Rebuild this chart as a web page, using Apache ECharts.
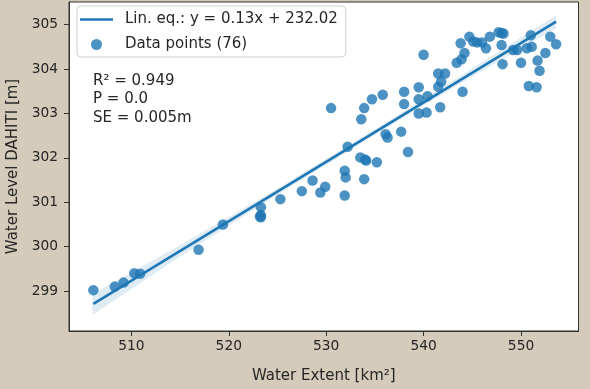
<!DOCTYPE html>
<html><head><meta charset="utf-8">
<script src="https://cdn.jsdelivr.net/npm/echarts@6/dist/echarts.min.js"></script>
<style>html,body{margin:0;padding:0;background:#d4cbbb;}#c{width:590px;height:389px;}</style>
</head><body><div id="c"></div>
<script>
// Data points (Water Extent km², Water Level m)
const extent = [506.1,508.3,509.2,510.3,510.9,516.9,519.4,523.3,523.3,523.3,523.2,525.3,527.5,528.6,529.4,529.9,
531.9,532.0,531.9,533.5,534.1,534.0,533.9,535.2,538.4,530.5,532.2,533.6,533.9,534.7,535.8,536.1,536.3,537.7,
538.0,538.0,539.5,539.5,539.5,540.3,540.4,540.0,541.7,541.5,541.8,541.5,542.2,544.0,543.4,543.9,544.2,543.8,
544.7,545.1,545.5,546.0,546.4,546.8,547.7,548.0,548.2,548.0,548.1,549.2,549.6,550.0,550.6,551.1,551.0,550.8,
551.6,551.7,551.9,552.5,553.0,553.6];
const level = [299.02,299.10,299.19,299.40,299.39,299.93,300.50,300.89,300.71,300.66,300.68,301.07,301.25,301.49,301.22,301.35,
301.71,301.56,301.15,302.01,301.94,301.96,301.52,301.90,302.13,303.12,302.25,302.87,303.12,303.32,303.42,302.53,302.46,302.59,
303.49,303.21,303.59,303.32,303.00,303.02,303.39,304.32,303.14,303.60,303.72,303.90,303.90,303.49,304.14,304.22,304.36,304.58,
304.73,304.62,304.60,304.60,304.47,304.73,304.83,304.81,304.80,304.54,304.11,304.43,304.43,304.14,304.47,304.50,304.76,303.62,
303.59,304.19,303.96,304.36,304.73,304.56];
// Regression line (endpoints)
const fitX = [506.1, 553.6];
const fitY = [298.71, 305.07];
// Confidence band
const bandX = [506.0, 515.0, 525.0, 535.0, 545.0, 553.6];
const bandLow = [298.46, 299.77, 301.17, 302.52, 303.83, 304.92];
const bandHigh = [298.93, 300.03, 301.31, 302.64, 304.01, 305.22];
// Ticks
const xTicks = [510, 520, 530, 540, 550];
const yTicks = [299, 300, 301, 302, 303, 304, 305];
const lineName = 'Lin. eq.: y = 0.13x + 232.02';
const pointName = 'Data points (76)';
const stats = ['R\u00b2 = 0.949', 'P = 0.0', 'SE = 0.005m'];

const FONT = 'DejaVu Sans';
const blue = '#1f77b4';
const chart = echarts.init(document.getElementById('c'), null, {renderer: 'canvas'});
const bandPoly = bandX.map((x,i)=>[x, bandHigh[i]]).concat(bandX.slice().reverse().map((x,i)=>[x, bandLow[bandX.length-1-i]]));
chart.setOption({
  backgroundColor: '#d4cbbb',
  animation: false,
  textStyle: {fontFamily: FONT},
  grid: {left: 69, right: 11.5, top: 2, bottom: 58, show: true, backgroundColor: '#fff', borderColor: '#333', borderWidth: 1,
         containLabel: false, outerBoundsMode: 'none'},
  xAxis: {
    type: 'value', min: 503.6, max: 555.9,
    name: 'Water Extent [km\u00b2]', nameLocation: 'middle', nameGap: 37.5,
    nameTextStyle: {fontFamily: FONT, fontSize: 15, color: '#262626'},
    axisLine: {show: true, onZero: false, lineStyle: {color: '#333'}},
    axisTick: {show: true, length: 5, lineStyle: {color: '#333'}, customValues: xTicks},
    axisLabel: {fontFamily: FONT, fontSize: 13.8, color: '#262626', margin: 8, customValues: xTicks},
    splitLine: {show: false}
  },
  yAxis: {
    type: 'value', min: 298.1, max: 305.51,
    name: 'Water Level DAHITI [m]', nameLocation: 'middle', nameGap: 41, nameRotate: 90,
    nameTextStyle: {fontFamily: FONT, fontSize: 15, color: '#262626'},
    axisLine: {show: true, onZero: false, lineStyle: {color: '#333'}},
    axisTick: {show: true, length: 5, lineStyle: {color: '#333'}, customValues: yTicks},
    axisLabel: {fontFamily: FONT, fontSize: 13.8, color: '#262626', margin: 11, customValues: yTicks},
    splitLine: {show: false}
  },
  legend: {
    orient: 'vertical', left: 77, top: 6,
    padding: [5, 8, 4, 3],
    backgroundColor: 'rgba(255,255,255,0.9)', borderColor: '#d0d0d0', borderWidth: 1, borderRadius: 4,
    itemWidth: 33, itemHeight: 11, itemGap: 8,
    textStyle: {fontFamily: FONT, fontSize: 15, lineHeight: 17, color: '#262626', padding: [0,0,0,7]},
    data: [{name: lineName, icon: 'path://M0,0H33V2.6H0Z'}, {name: pointName, icon: 'circle'}]
  },
  graphic: [{
    type: 'text', left: 93, top: 72,
    style: {text: stats.join('\n'), font: '15px "DejaVu Sans"', fill: '#262626', lineHeight: 18.3}
  }],
  series: [
    {
      type: 'custom', name: 'band', silent: true, z: 1,
      renderItem: function(params, api){
        if (params.dataIndex !== 0) return;
        const pts = bandPoly.map(p => api.coord(p));
        return {type: 'polygon', shape: {points: pts}, style: {fill: 'rgba(31,119,180,0.14)'}};
      },
      data: [0]
    },
    {
      type: 'line', name: lineName, data: fitX.map((x,i)=>[x, fitY[i]]),
      symbol: 'none', lineStyle: {color: blue, width: 2.6}, itemStyle: {color: blue}, z: 3
    },
    {
      type: 'scatter', name: pointName, data: extent.map((x,i)=>[x, level[i]]),
      symbolSize: 10.5, itemStyle: {color: blue, opacity: 0.8}, z: 2
    }
  ]
});
</script></body></html>
